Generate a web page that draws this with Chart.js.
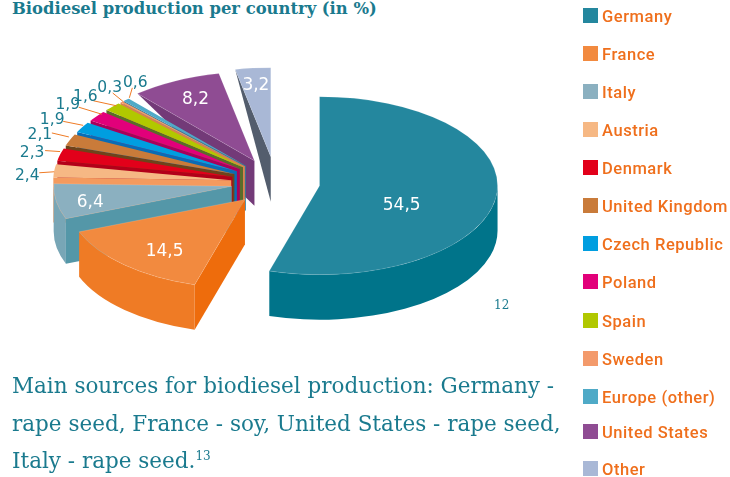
<!DOCTYPE html>
<html lang="en">
<head>
    <meta charset="UTF-8">
    <title>Biodiesel production per country</title>
    <script src="https://cdn.jsdelivr.net/npm/chart.js"></script>
    <style>
        body { margin: 0; background: #fff; width: 730px; height: 477px; overflow: hidden; position: relative; }
        canvas { position: absolute; left: 0; top: 0; }
        h1 { position: absolute; left: 12px; top: 0; margin: 0; font: bold 16.4px/17px "DejaVu Serif", serif; color: #1a7a8e; white-space: nowrap; }
        .caption { position: absolute; left: 12px; top: 367px; margin: 0; font: 21.5px/37.5px "DejaVu Serif", serif; color: #1a7a8e; white-space: nowrap; }
        .caption sup { font-size: 12px; line-height: 0; }
        .footnote { position: absolute; left: 494px; top: 298px; font: 12px/14px "DejaVu Serif", serif; color: #1a7a8e; }
        .legend-item { position: absolute; left: 583px; height: 15px; white-space: nowrap; font: 500 16.5px/17px Roboto, sans-serif; color: #ef6f1c; }
        .legend-item i { position: absolute; left: 0; top: 0; width: 15px; height: 15px; }
        .legend-item span { position: absolute; left: 19px; top: 0; letter-spacing: 0.55px; }
    </style>
</head>
<body>
    <h1>Biodiesel production per country (in %)</h1>
    <canvas id="pie" width="730" height="477"></canvas>
    <div class="footnote">12</div>
    <p class="caption">Main sources for biodiesel production: Germany -<br>rape seed, France - soy, United States - rape seed,<br>Italy - rape seed.<sup>13</sup></p>
    <div id="legend"></div>

    <script>
        const categories = ['Germany', 'France', 'Italy', 'Austria', 'Denmark', 'United Kingdom', 'Czech Republic',
            'Poland', 'Spain', 'Sweden', 'Europe (other)', 'United States', 'Other'];
        const shares = [54.5, 14.5, 6.4, 2.4, 2.3, 2.1, 1.9, 1.9, 1.6, 0.3, 0.6, 8.2, 3.2];

        const topColors = ['#24879e', '#f28a3f', '#8bb0c0', '#f6b884', '#e2001a', '#c97b3a', '#009ee0',
            '#e2007a', '#b1c800', '#f39a6b', '#4faac7', '#8f4c93', '#a9b8d6'];
        const faceColors = ['#00748a', '#ee6c0c', '#5497a8', '#f49a5e', '#b20019', '#6e431b', '#0a6cb5',
            '#a8005c', '#5a6c2a', '#d9804f', '#2f7f9a', '#733a78', '#535d6d'];
        const rimColors = ['#00748a', '#ef7b25', '#78a6b6', '#f49a5e', '#b20019', '#6e431b', '#0a6cb5',
            '#a8005c', '#5a6c2a', '#d9804f', '#2f7f9a', '#733a78', '#535d6d'];
        // faint light edge on the large slices only
        const edgeWidths = [0.6, 0.6, 0.6, 0, 0, 0, 0, 0, 0, 0, 0, 0.6, 0.6];

        // how far each slice is pulled out of the pie
        const explode = [44, 46, 45, 45, 45, 45, 45, 45, 45, 45, 45, 48.7, 52];
        // the two back slices have side faces that run out to nothing at the rim
        const faceTaper = [1, 1, 1, 1, 1, 1, 1, 1, 1, 1, 1, 0, 0];
        const legendTops = [8, 46, 84, 122, 160, 198, 236, 274, 313, 351, 389, 424, 461];

        // label offset from the rim point of the slice
        const labelNudge = [[-94, 5], [40, -15], [34, -1], [-27, 3], [-28, -4], [-30, -7], [-30, -9],
            [-29, -13], [-27, -12], [-12, -16], [9, -19], [20, 17], [3, 15]];
        // leader lines: start relative to the label, end relative to the rim point
        const leaderStart = [null, null, null, [12, -1], [13, 0], [12, 0], [11, 3], [11, 4], [8, 6], [3, 7], [-3, 7], null, null];
        const leaderEnd = [null, null, null, [0, 1], [0, -3], [-1, -3], [1, -2], [5, -2], [4, -1], [2, 0], [3, -2], null, null];

        const squash = 0.5;
        const depth = 45;

        const fmt = v => v.toFixed(1).replace('.', ',');

        const pie3d = {
            id: 'pie3d',
            beforeDatasetDraw(chart, args) {
                const ctx = chart.ctx;
                const arcs = args.meta.data;

                // back to front, the slices were ordered clockwise from the top
                for (let i = arcs.length - 1; i >= 0; i--) {
                    const arc = arcs[i];
                    const { x, y, outerRadius: r, startAngle: a0, endAngle: a1 } = arc;
                    const mid = (a0 + a1) / 2;
                    const ax = x + explode[i] * Math.cos(mid);
                    const ay = y + explode[i] * Math.sin(mid) * squash;
                    const ry = r * squash;

                    // rim, only the part that faces the viewer
                    const from = Math.max(a0, 0), to = Math.min(a1, Math.PI);
                    if (to > from) {
                        ctx.beginPath();
                        ctx.ellipse(ax, ay, r, ry, 0, from, to);
                        ctx.ellipse(ax, ay + depth, r, ry, 0, to, from, true);
                        ctx.closePath();
                        ctx.fillStyle = rimColors[i];
                        ctx.fill();
                    }

                    // cut face along the start angle
                    if (Math.cos(a0) < 0) {
                        const rimX = ax + r * Math.cos(a0), rimY = ay + ry * Math.sin(a0);
                        ctx.beginPath();
                        ctx.moveTo(ax, ay);
                        ctx.lineTo(rimX, rimY);
                        ctx.lineTo(rimX, rimY + depth * faceTaper[i]);
                        ctx.lineTo(ax, ay + depth);
                        ctx.closePath();
                        ctx.fillStyle = faceColors[i];
                        ctx.fill();
                    }

                    // top of the slice is the library's own arc, flattened
                    ctx.save();
                    ctx.translate(ax, ay);
                    ctx.scale(1, squash);
                    ctx.translate(-x, -y);
                    arc.draw(ctx);
                    ctx.restore();
                }

                // value labels and leader lines
                ctx.textAlign = 'center';
                ctx.textBaseline = 'middle';
                arcs.forEach((arc, i) => {
                    const mid = (arc.startAngle + arc.endAngle) / 2;
                    const reach = arc.outerRadius + explode[i];
                    const rimX = arc.x + reach * Math.cos(mid);
                    const rimY = arc.y + reach * Math.sin(mid) * squash;
                    const lx = rimX + labelNudge[i][0], ly = rimY + labelNudge[i][1];
                    const outside = leaderStart[i] !== null;
                    if (outside) {
                        ctx.beginPath();
                        ctx.moveTo(lx + leaderStart[i][0], ly + leaderStart[i][1]);
                        ctx.lineTo(rimX + leaderEnd[i][0], rimY + leaderEnd[i][1]);
                        ctx.strokeStyle = '#ef7b25';
                        ctx.lineWidth = 1;
                        ctx.stroke();
                    }
                    ctx.font = (outside ? '15.5px' : '17px') + ' "DejaVu Sans", sans-serif';
                    ctx.fillStyle = outside ? '#1a7a8e' : '#fff';
                    ctx.fillText(fmt(shares[i]), lx, ly + 2);
                });
                return false;
            }
        };

        const chart = new Chart(document.getElementById('pie'), {
            type: 'pie',
            data: {
                labels: categories,
                datasets: [{
                    data: shares,
                    backgroundColor: topColors,
                    borderColor: 'rgba(255,255,255,0.3)',
                    borderWidth: edgeWidths
                }]
            },
            options: {
                responsive: false,
                animation: false,
                radius: 178,
                layout: { padding: { right: 178, bottom: 112 } },
                plugins: { legend: { display: false }, tooltip: { enabled: false } }
            },
            plugins: [pie3d]
        });

        // HTML legend, items come from the chart
        const legendBox = document.getElementById('legend');
        chart.options.plugins.legend.labels.generateLabels(chart).forEach((item, i) => {
            const row = document.createElement('div');
            row.className = 'legend-item';
            row.style.top = legendTops[i] + 'px';
            const swatch = document.createElement('i');
            swatch.style.background = topColors[i];
            const label = document.createElement('span');
            label.textContent = item.text;
            row.append(swatch, label);
            legendBox.appendChild(row);
        });
    </script>
</body>
</html>
